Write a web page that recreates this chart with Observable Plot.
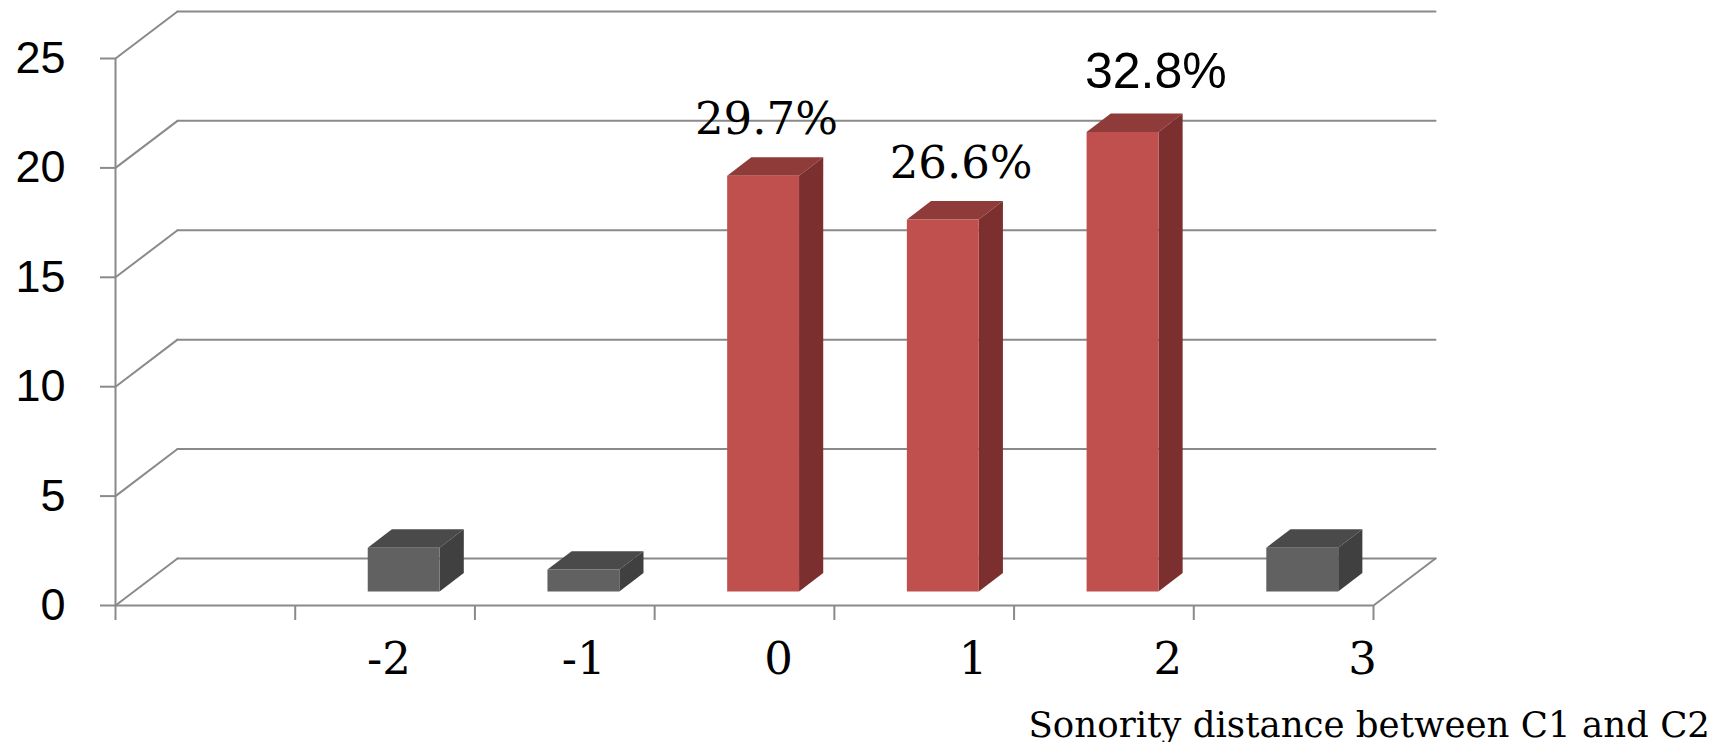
<!DOCTYPE html>
<html><head><meta charset="utf-8">
<script src="https://cdn.jsdelivr.net/npm/d3@7"></script>
<script src="https://cdn.jsdelivr.net/npm/@observablehq/plot@0.6"></script>
<style>
body{margin:0;background:#fff;}
#chart{width:1735px;height:700px;}
#caption{font-family:"DejaVu Serif",serif;font-size:35.6px;text-align:right;padding-right:25px;line-height:35px;margin-top:7px;color:#000;white-space:nowrap;}
</style></head><body>
<div id="chart"></div>
<div id="caption"></div>
<script>
// ---- data ----
const categories = ["", "-2", "-1", "0", "1", "2", "3"];
const counts = [null, 2, 1, 19, 17, 21, 2];
const pctLabels = [null, null, null, "29.7%", "26.6%", "32.8%", null];
const yTicks = [0, 5, 10, 15, 20, 25];
const xTitle = "Sonority distance between C1 and C2";

// ---- oblique 3D projection (depth in slot / value units) ----
const DX = 0.345, DY = 2.15;
const Z0 = 0.3, Z1 = 0.69, BAR_W = 0.4;
const proj = (x, y, z) => ({x: x + z * DX, y: y + z * DY});
const RED = {front: "#c0504d", top: "#8f3b39", side: "#7b302f"};
const GRAY = {front: "#616161", top: "#4a4a4a", side: "#404040"};
const GRID = "#8a8a8a";
const n = categories.length;

const rows = categories.map((c, i) => ({cat: c, i, v: counts[i], pct: pctLabels[i]}));
const bars = rows.filter(d => d.v != null);
const faces = [];
for (const d of bars) {
  const pal = d.pct ? RED : GRAY;
  const x0 = d.i + 0.5 - BAR_W / 2, x1 = x0 + BAR_W;
  const quad = (kind, pts) => pts.forEach(([x, y, z]) => faces.push({id: d.cat + kind, kind, fill: pal[kind], ...proj(x, y, z)}));
  quad("top", [[x0, d.v, Z0], [x1, d.v, Z0], [x1, d.v, Z1], [x0, d.v, Z1]]);
  quad("side", [[x1, 0, Z0], [x1, d.v, Z0], [x1, d.v, Z1], [x1, 0, Z1]]);
  quad("front", [[x0, 0, Z0], [x1, 0, Z0], [x1, d.v, Z0], [x0, d.v, Z0]]);
}
const backLines = yTicks.flatMap(t => [{id: "b" + t, ...proj(0, t, 1)}, {id: "b" + t, ...proj(n, t, 1)}]);
const sideLines = yTicks.flatMap(t => [{id: "s" + t, ...proj(0, t, 0)}, {id: "s" + t, ...proj(0, t, 1)}]);
const floorLines = [{id: "f", ...proj(0, 0, 0)}, {id: "f", ...proj(n, 0, 0)}, {id: "f", ...proj(n, 0, 1)}];

const xLabelPos = d => d.i + 0.5 + 0.189 + 0.0835 * (d.i - 3);
const pctPos = d => d.i + 0.5 + 0.122 + 0.0835 * (d.i - 3);
const pctRows = rows.filter(d => d.pct);

const chart = Plot.plot({
  width: 1735, height: 700,
  marginLeft: 115, marginRight: 362, marginTop: 58, marginBottom: 95,
  x: {type: "linear", domain: [0, n], label: null},
  y: {domain: [0, 25], label: null},
  color: {type: "identity"},
  style: {background: "white", color: "black", overflow: "visible"},
  marks: [
    Plot.line(backLines, {x: "x", y: "y", z: "id", stroke: GRID, strokeWidth: 2}),
    Plot.line(sideLines, {x: "x", y: "y", z: "id", stroke: GRID, strokeWidth: 2}),
    Plot.line(floorLines, {x: "x", y: "y", z: "id", stroke: GRID, strokeWidth: 2}),
    Plot.line(faces, {x: "x", y: "y", z: "id", fill: "fill", stroke: "none"}),
    Plot.ruleX([0], {y1: 0, y2: 25, stroke: GRID, strokeWidth: 2}),
    Plot.axisY({ticks: yTicks, tickSize: 15, tickPadding: 35, fontSize: 45, fontFamily: "Liberation Sans, Arial, sans-serif", stroke: GRID, strokeWidth: 2, fill: "black", label: null}),
    Plot.axisX({ticks: d3.range(n + 1), tickSize: 15, tickFormat: () => "", stroke: GRID, strokeWidth: 2, label: null}),
    Plot.text(rows.filter(d => d.cat !== ""), {x: xLabelPos, y: 0, text: "cat", dy: 37, lineAnchor: "top", fontSize: 45, fontFamily: "DejaVu Serif, serif", fill: "black"}),
    Plot.text(pctRows.slice(0, 2), {x: pctPos, y: d => d.v + Z1 * DY, text: "pct", dy: -23, lineAnchor: "bottom", fontSize: 45, fontFamily: "DejaVu Serif, serif", fill: "black"}),
    Plot.text(pctRows.slice(2), {x: pctPos, y: d => d.v + Z1 * DY, text: "pct", dy: -26, lineAnchor: "bottom", fontSize: 50, fontFamily: "Liberation Sans, Arial, sans-serif", fill: "black"})
  ]
});
document.getElementById("chart").appendChild(chart);
document.getElementById("caption").textContent = xTitle;
</script>
</body></html>
